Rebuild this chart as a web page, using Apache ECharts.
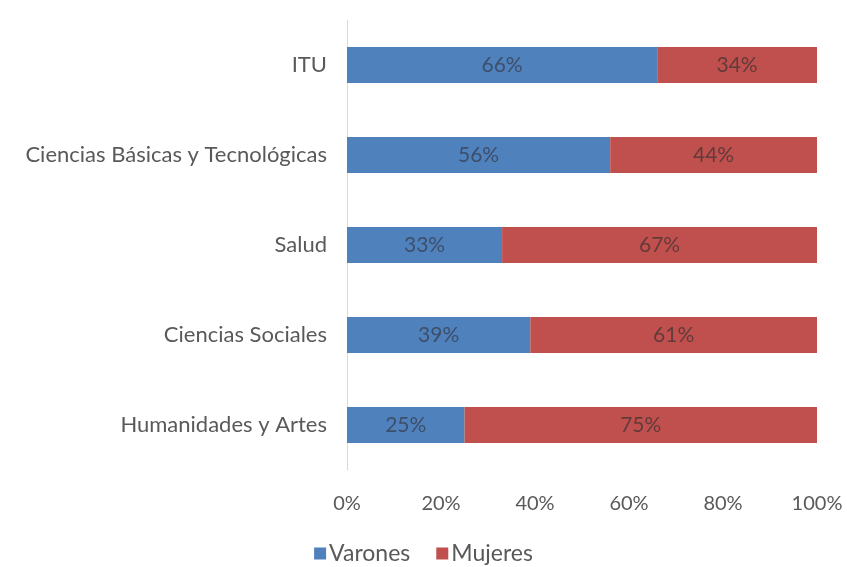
<!DOCTYPE html>
<html>
<head>
<meta charset="utf-8">
<script src="https://cdn.jsdelivr.net/npm/echarts@6/dist/echarts.min.js"></script>
<style>html,body{margin:0;padding:0;background:#fff;}#c{width:847px;height:567px;}</style>
</head>
<body>
<div id="c"></div>
<script>
const categories = ['Humanidades y Artes', 'Ciencias Sociales', 'Salud', 'Ciencias Básicas y Tecnológicas', 'ITU'];
const varones = [25, 39, 33, 56, 66];
const mujeres = [75, 61, 67, 44, 34];
const seriesNames = ['Varones', 'Mujeres'];

const font = 'Lato, "Open Sans", sans-serif';
const chart = echarts.init(document.getElementById('c'));
const labelCfg = {
  show: true, position: 'inside', color: '#3d4f6a', fontFamily: font, fontSize: 21,
  formatter: p => p.value + '%'
};
chart.setOption({
  animation: false,
  textStyle: { fontFamily: font },
  grid: { left: 347, right: 30, top: 20, bottom: 97, containLabel: false },
  legend: {
    bottom: -3, left: 'center', itemWidth: 12, itemHeight: 12, itemGap: 26,
    icon: 'rect',
    textStyle: { fontFamily: font, fontSize: 23, color: '#595959', padding: [0, 0, 0, -2] },
    data: seriesNames
  },
  xAxis: {
    type: 'value', min: 0, max: 100, interval: 20,
    axisLabel: { formatter: '{value}%', fontFamily: font, fontSize: 20, color: '#595959', margin: 24 },
    splitLine: { show: false }, axisLine: { show: false }, axisTick: { show: false }
  },
  yAxis: {
    type: 'category', data: categories,
    axisLine: { show: true, lineStyle: { color: '#d9d9d9' } },
    axisTick: { show: false },
    axisLabel: { fontFamily: font, fontSize: 22, color: '#595959', margin: 20 }
  },
  series: [
    { name: seriesNames[0], type: 'bar', stack: 'a', data: varones, barWidth: '40%',
      itemStyle: { color: '#4f81bd' }, label: labelCfg },
    { name: seriesNames[1], type: 'bar', stack: 'a', data: mujeres, barWidth: '40%',
      itemStyle: { color: '#c0504d' }, label: Object.assign({}, labelCfg, { color: '#633a3a' }) }
  ]
});
</script>
</body>
</html>
